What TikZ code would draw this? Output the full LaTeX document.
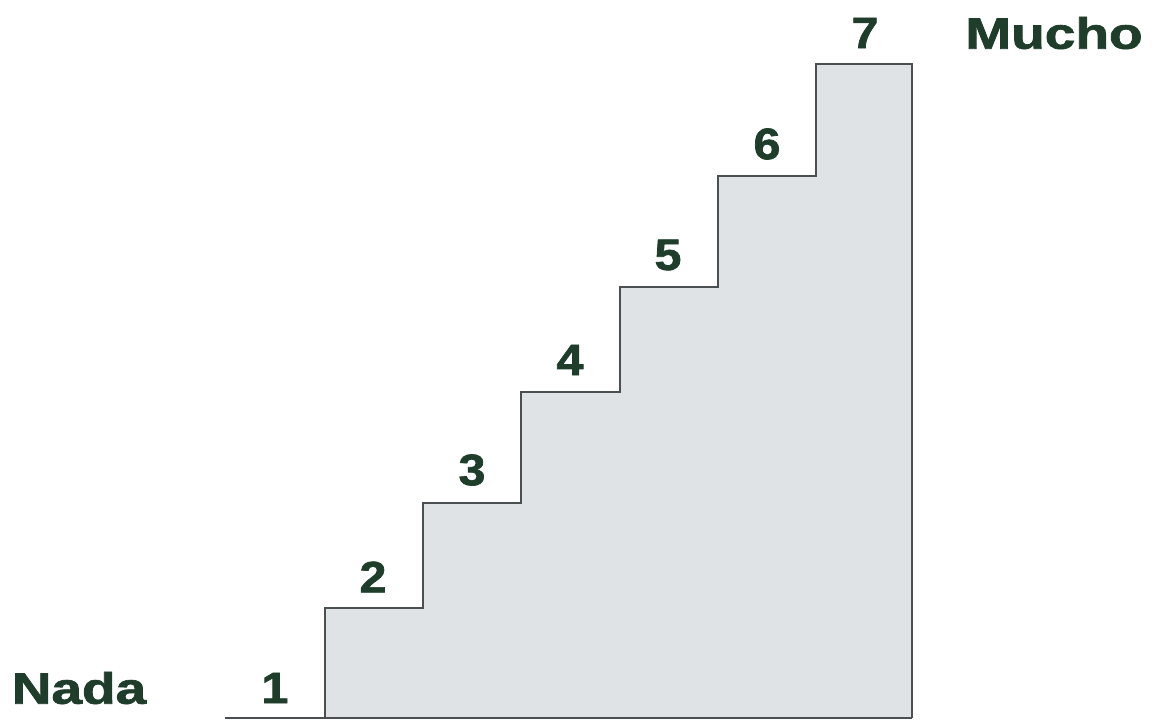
\documentclass[tikz,border=0pt]{standalone}
\usepackage{fontspec}
\setmainfont{Liberation Sans}[BoldFeatures={FakeBold=1.5}]
\definecolor{txtgreen}{HTML}{1E3D2A}
\definecolor{stairfill}{HTML}{DFE3E6}
\definecolor{stairline}{HTML}{4A4F52}
\begin{document}
\begin{tikzpicture}[x=1pt,y=-1pt,
  lbl/.style={font=\fontsize{44}{44}\selectfont\bfseries, text=txtgreen, inner sep=0pt, xscale=1.25},
  num/.style={font=\fontsize{44}{44}\selectfont\bfseries, text=txtgreen, inner sep=0pt, xscale=1.1}]
\useasboundingbox (0,0) rectangle (1152,723);
\fill[white] (0,0) rectangle (1152,723);
\fill[stairfill] (325,718) -- (325,608) -- (423,608) -- (423,503) -- (521,503) -- (521,392)
  -- (620,392) -- (620,287) -- (718,287) -- (718,176) -- (816,176) -- (816,64)
  -- (912,64) -- (912,718) -- cycle;
\draw[stairline, line width=1.4pt] (325,718) -- (325,608) -- (423,608) -- (423,503) -- (521,503) -- (521,392)
  -- (620,392) -- (620,287) -- (718,287) -- (718,176) -- (816,176) -- (816,64)
  -- (912,64) -- (912,718);
\draw[stairline, line width=1.4pt] (225,718) -- (912,718);
\node[num] (n1) at (275,688) {1};
\node[num] (n2) at (373,577) {2};
\node[num] (n3) at (472,470) {3};
\node[num] (n4) at (570,360) {4};
\node[num] (n5) at (668,255) {5};
\node[num] (n6) at (767,144) {6};
\node[num] (n7) at (865,33) {7};
\node[lbl] (nada) at (79,688) {Nada};
\node[lbl] (mucho) at (1054,33) {Mucho};
\end{tikzpicture}
\end{document}
